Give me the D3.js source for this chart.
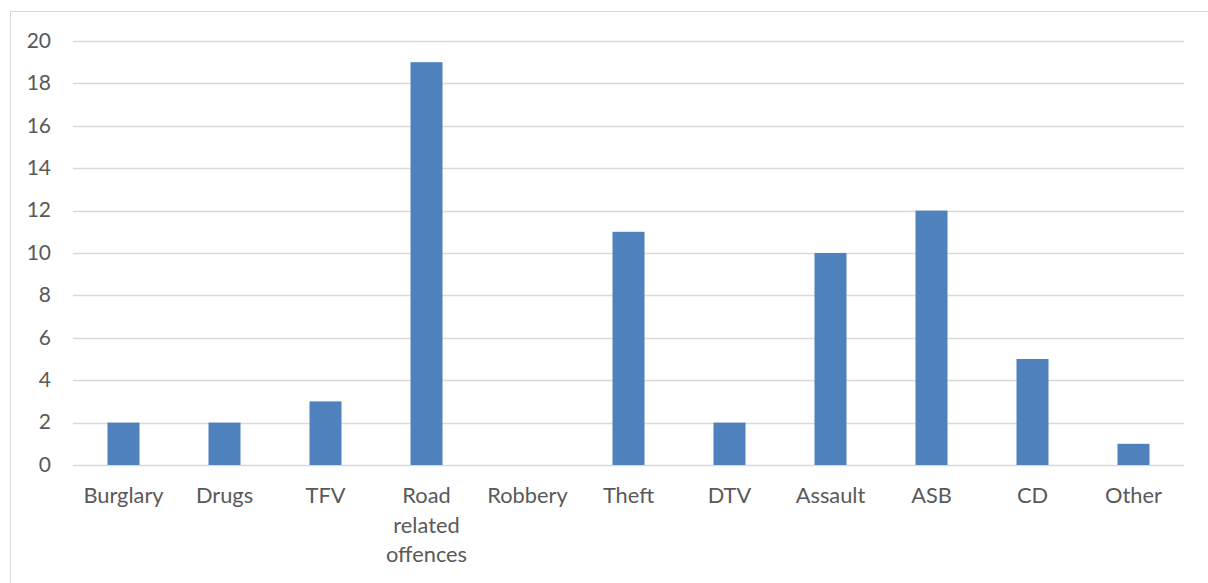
<!DOCTYPE html>
<html>
<head>
<meta charset="utf-8">
<script src="https://cdn.jsdelivr.net/npm/d3@7"></script>
<style>
  html, body { margin: 0; padding: 0; background: #fff; }
  svg { display: block; }
</style>
</head>
<body>
<svg id="chart" width="1208" height="583"></svg>
<script>
// Offence counts by category
const categories = ["Burglary", "Drugs", "TFV", "Road related offences", "Robbery", "Theft", "DTV", "Assault", "ASB", "CD", "Other"];
const counts = [2, 2, 3, 19, 0, 11, 2, 10, 12, 5, 1];
const yTicks = [0, 2, 4, 6, 8, 10, 12, 14, 16, 18, 20];
// Category labels broken onto lines
const labelLines = [["Burglary"], ["Drugs"], ["TFV"], ["Road", "related", "offences"], ["Robbery"], ["Theft"], ["DTV"], ["Assault"], ["ASB"], ["CD"], ["Other"]];

const W = 1208, H = 583;
const plot = { left: 73, right: 1184, top: 41, bottom: 465 };
const font = "Lato, 'Open Sans', sans-serif";
const textColor = "#595959";

const svg = d3.select("#chart");

// Chart frame
svg.append("rect")
  .attr("x", 10.5).attr("y", 11.5)
  .attr("width", W + 10).attr("height", H + 10)
  .attr("fill", "#fff").attr("stroke", "#d9d9d9").attr("stroke-width", 1);

const x = d3.scaleBand()
  .domain(categories)
  .range([plot.left, plot.right])
  .paddingInner(0.683)
  .paddingOuter(0.3415);

const y = d3.scaleLinear()
  .domain([0, 20])
  .range([plot.bottom, plot.top]);

// Horizontal gridlines
svg.append("g")
  .selectAll("line")
  .data(yTicks)
  .join("line")
  .attr("x1", plot.left).attr("x2", plot.right)
  .attr("y1", d => Math.round(y(d)) + 0.5)
  .attr("y2", d => Math.round(y(d)) + 0.5)
  .attr("stroke", "#d9d9d9").attr("stroke-width", 1.3);

// Y axis labels
const yAxis = d3.axisLeft(y).tickValues(yTicks).tickSize(0).tickPadding(22);
const yg = svg.append("g").attr("transform", `translate(${plot.left},0)`).call(yAxis);
yg.select(".domain").remove();
yg.selectAll("text")
  .attr("fill", textColor)
  .style("font-family", font)
  .style("font-size", "21px")
  .attr("dy", "0.3em");

// Bars
svg.append("g")
  .selectAll("rect")
  .data(categories)
  .join("rect")
  .attr("x", d => x(d))
  .attr("width", x.bandwidth())
  .attr("y", (d, i) => y(counts[i]))
  .attr("height", (d, i) => y(0) - y(counts[i]))
  .attr("fill", "#4f81bd");

// X axis labels
const xAxis = d3.axisBottom(x).tickSize(0).tickFormat("");
const xg = svg.append("g").attr("transform", `translate(0,${plot.bottom})`).call(xAxis);
xg.select(".domain").remove();
xg.selectAll(".tick").each(function(d, i) {
  const t = d3.select(this).append("text")
    .attr("fill", textColor)
    .attr("text-anchor", "middle")
    .style("font-family", font)
    .style("font-size", "21.8px")
    .attr("y", 38);
  labelLines[i].forEach((line, j) => {
    t.append("tspan").attr("x", 0).attr("dy", j === 0 ? 0 : 29.5).text(line);
  });
});
</script>
</body>
</html>
